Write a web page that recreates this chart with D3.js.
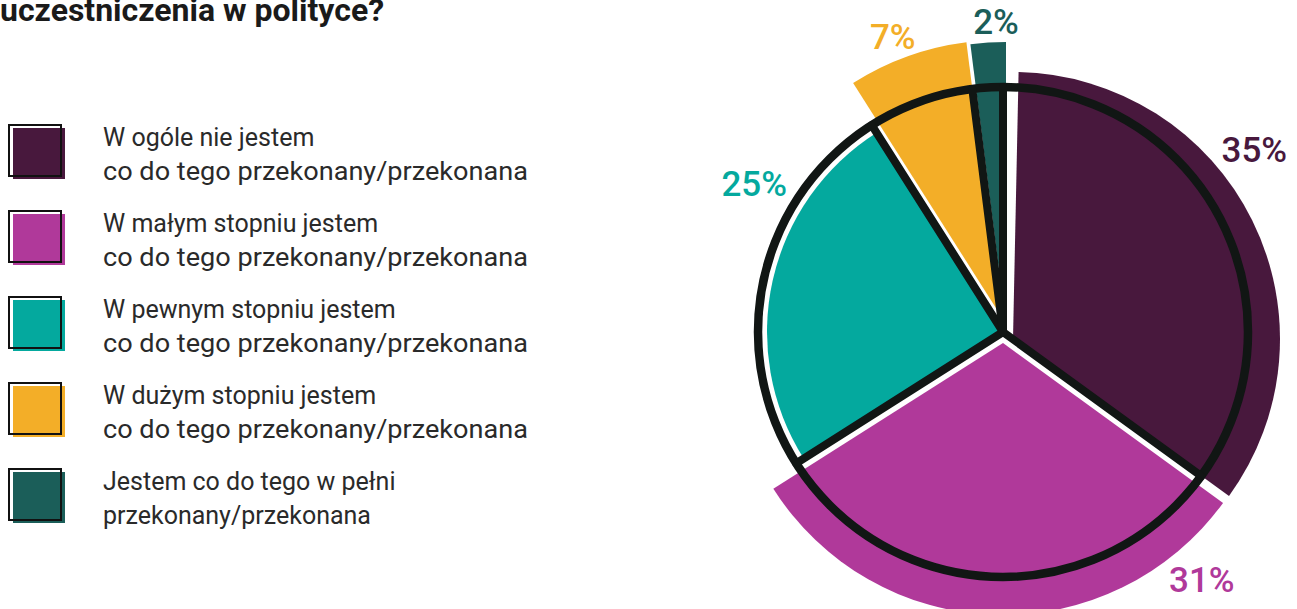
<!DOCTYPE html>
<html lang="pl">
<head>
<meta charset="UTF-8">
<title>pie</title>
<script src="https://cdn.jsdelivr.net/npm/d3@7"></script>
<style>
  body { margin: 0; background: #fff; }
  text { font-family: Roboto, "Open Sans", sans-serif; }
</style>
</head>
<body>
<svg width="1297" height="609"></svg>
<script>
// dane
var title = "uczestniczenia w polityce?";
var categories = [
    ["W ogóle nie jestem", "co do tego przekonany/przekonana"],
    ["W małym stopniu jestem", "co do tego przekonany/przekonana"],
    ["W pewnym stopniu jestem", "co do tego przekonany/przekonana"],
    ["W dużym stopniu jestem", "co do tego przekonany/przekonana"],
    ["Jestem co do tego w pełni", "przekonany/przekonana"]
];
var values = [35, 31, 25, 7, 2];
var colors = ["#48183d", "#b0399a", "#04a99e", "#f3ae28", "#1b5e59"];

// wyglad kawalkow: przesuniecie, promien, przyciecie poczatku (stopnie)
var sliceShift = [[10, 7], [0, 11], [0, 0], [-2, -16], [3, -6]];
var sliceRadius = [267, 272, 236, 276, 284];
var sliceTrim = [1.2, 0, 0, 0, 0];
// etykiety: polozenie w kawalku (0..1) i promien
var labelAt = [[0.43, 310], [0.137, 318], [0.70, 289], [0.47, 314], [0.82, 310]];

var width = 1297, height = 609;
var cx = 1003, cy = 332, ringR = 245;
var svg = d3.select("svg");

var pie = d3.pie().sort(null).value(function(d) { return d; });
var arcs = pie(values);
var rad = Math.PI / 180;

// kolorowe kawalki
var slices = svg.append("g");
slices.selectAll("path")
    .data(arcs)
    .enter()
    .append("path")
    .attr("transform", function(d, i) {
        return "translate(" + (cx + sliceShift[i][0]) + "," + (cy + sliceShift[i][1]) + ")";
    })
    .attr("d", function(d, i) {
        return d3.arc()
            .innerRadius(0)
            .outerRadius(sliceRadius[i])
            .startAngle(d.startAngle + sliceTrim[i] * rad)
            .endAngle(d.endAngle)();
    })
    .attr("fill", function(d, i) { return colors[i]; });

// czarny obrys
var outline = svg.append("g").attr("transform", "translate(" + cx + "," + cy + ")");
outline.append("circle")
    .attr("r", ringR)
    .attr("fill", "none")
    .attr("stroke", "#111614")
    .attr("stroke-width", 8.5);
outline.selectAll("line")
    .data(arcs)
    .enter()
    .append("line")
    .attr("x1", 0).attr("y1", 0)
    .attr("x2", function(d) { return ringR * Math.sin(d.startAngle); })
    .attr("y2", function(d) { return -ringR * Math.cos(d.startAngle); })
    .attr("stroke", "#111614")
    .attr("stroke-width", 8)
    .attr("stroke-linecap", "round");

// etykiety procentowe
svg.append("g").selectAll("text")
    .data(arcs)
    .enter()
    .append("text")
    .attr("x", function(d, i) {
        var a = d.startAngle + (d.endAngle - d.startAngle) * labelAt[i][0];
        return cx + labelAt[i][1] * Math.sin(a);
    })
    .attr("y", function(d, i) {
        var a = d.startAngle + (d.endAngle - d.startAngle) * labelAt[i][0];
        return cy - labelAt[i][1] * Math.cos(a);
    })
    .attr("text-anchor", "middle")
    .attr("dominant-baseline", "central")
    .attr("font-size", 35)
    .attr("font-weight", 500)
    .attr("fill", function(d, i) { return colors[i]; })
    .text(function(d) { return d.data + "%"; });

// tytul
var t = svg.append("text")
    .attr("x", 0)
    .attr("y", 21)
    .attr("font-size", 32)
    .attr("font-weight", 700)
    .attr("fill", "#1a1a1a")
    .text(title);
if (t.node().getComputedTextLength() > 385) {
    t.attr("textLength", 385).attr("lengthAdjust", "spacingAndGlyphs");
}

// legenda
var legend = svg.append("g");
var rows = legend.selectAll("g")
    .data(categories)
    .enter()
    .append("g")
    .attr("transform", function(d, i) { return "translate(0," + (124 + i * 86) + ")"; });

rows.append("rect")
    .attr("x", 13).attr("y", 4)
    .attr("width", 52).attr("height", 51)
    .attr("fill", function(d, i) { return colors[i]; });
rows.append("rect")
    .attr("x", 9).attr("y", 1)
    .attr("width", 52).attr("height", 51)
    .attr("fill", "none")
    .attr("stroke", "#111")
    .attr("stroke-width", 2);

rows.each(function(d) {
    var g = d3.select(this);
    d.forEach(function(line, j) {
        var tx = g.append("text")
            .attr("x", 103)
            .attr("y", 22 + j * 34)
            .attr("font-size", 25)
            .attr("fill", "#2a2a2a")
            .text(line);
        if (line.indexOf("co do tego przekonany") === 0) {
            tx.attr("textLength", 425).attr("lengthAdjust", "spacingAndGlyphs");
        }
    });
});
</script>
</body>
</html>
